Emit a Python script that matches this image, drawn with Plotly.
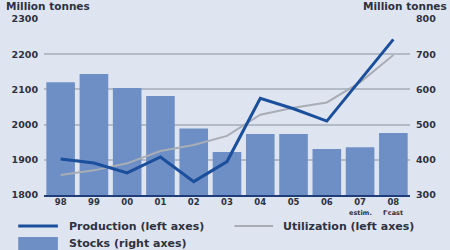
import plotly.graph_objects as go

years = ["98", "99", "00", "01", "02", "03", "04", "05", "06", "07", "08"]
production = [1902, 1891, 1863, 1908, 1838, 1895, 2075, 2045, 2010, 2125, 2242]
utilization = [1857, 1870, 1890, 1925, 1942, 1968, 2028, 2048, 2063, 2120, 2198]
stocks = [620, 644, 604, 581, 489, 422, 473, 473, 431, 436, 476]
sub_labels = {"07": "estim.", "08": "f'cast"}

W, H = 450, 250
L, R, T, B = 41, 40, 19, 55
PW, PH = W - L - R, H - T - B

def px(x):
    return (x - L) / PW

def py(y):
    return (H - B - y) / PH

BG = "#dfe5f0"
BAR = "#6e8fc5"
PROD = "#1b4f9b"
UTIL = "#a8adb6"
TXT = "#2e3140"
FONT = "DejaVu Sans"

fig = go.Figure()
# bars on primary axis (right side, 300-800) so that lines on the overlay axis draw on top
fig.add_trace(go.Bar(x=years, y=stocks, yaxis="y", marker=dict(color=BAR, line_width=0),
                     name="Stocks (right axes)", showlegend=False))
fig.add_trace(go.Scatter(x=years, y=utilization, yaxis="y2", mode="lines", line=dict(color=UTIL, width=2),
                         name="Utilization (left axes)", showlegend=False))
fig.add_trace(go.Scatter(x=years, y=production, yaxis="y2", mode="lines", line=dict(color=PROD, width=3),
                         name="Production (left axes)", showlegend=False))

tf = dict(size=9.5, family=FONT, color=TXT, weight="bold")
fig.update_layout(
    width=W, height=H, margin=dict(l=L, r=R, t=T, b=B),
    paper_bgcolor=BG, plot_bgcolor=BG,
    bargap=0.14,
    font=dict(family=FONT, color=TXT),
    xaxis=dict(showgrid=False, ticks="", showline=True, linecolor="#1f3d78", linewidth=2,
               ticklabelstandoff=-2,
               tickfont=dict(size=8.5, family=FONT, color=TXT, weight="bold"), range=[-0.5, 10.5]),
    yaxis=dict(range=[300, 800], dtick=100, side="right", showgrid=True, gridcolor="#b3bbc9", gridwidth=1.5,
               zeroline=False, ticks="", ticklabelstandoff=5, tickfont=tf),
    yaxis2=dict(range=[1800, 2300], dtick=100, overlaying="y", side="left", showgrid=False,
                zeroline=False, ticks="", ticklabelstandoff=5, tickfont=tf, tickformat="d"),
)

ann = []
ann.append(dict(text="<b>Million tonnes</b>", xref="paper", yref="paper", x=px(1), y=py(6),
                xanchor="left", yanchor="middle", showarrow=False, font=dict(size=10.5, color=TXT)))
ann.append(dict(text="<b>Million tonnes</b>", xref="paper", yref="paper", x=px(449), y=py(6),
                xanchor="right", yanchor="middle", showarrow=False, font=dict(size=10.5, color=TXT)))
for k, v in sub_labels.items():
    ann.append(dict(text="<b>" + v + "</b>", xref="x", yref="paper", x=years.index(k), y=py(213),
                    xanchor="center", yanchor="middle", showarrow=False, font=dict(size=6.5, color=TXT)))

shapes = []
shapes.append(dict(type="line", xref="paper", yref="paper", x0=px(15), x1=px(55), y0=py(226), y1=py(226),
                   line=dict(color=PROD, width=3)))
ann.append(dict(text="<b>Production (left axes)</b>", xref="paper", yref="paper", x=px(64), y=py(226),
                xanchor="left", yanchor="middle", showarrow=False, font=dict(size=11, color=TXT)))
shapes.append(dict(type="line", xref="paper", yref="paper", x0=px(233), x1=px(272), y0=py(226), y1=py(226),
                   line=dict(color=UTIL, width=2)))
ann.append(dict(text="<b>Utilization (left axes)</b>", xref="paper", yref="paper", x=px(280), y=py(226),
                xanchor="left", yanchor="middle", showarrow=False, font=dict(size=11, color=TXT)))
shapes.append(dict(type="rect", xref="paper", yref="paper", x0=px(15), x1=px(55), y0=py(237), y1=py(251),
                   fillcolor=BAR, line_width=0))
ann.append(dict(text="<b>Stocks (right axes)</b>", xref="paper", yref="paper", x=px(64), y=py(243),
                xanchor="left", yanchor="middle", showarrow=False, font=dict(size=11, color=TXT)))

fig.update_layout(annotations=ann, shapes=shapes)
fig.write_html("out.html")
